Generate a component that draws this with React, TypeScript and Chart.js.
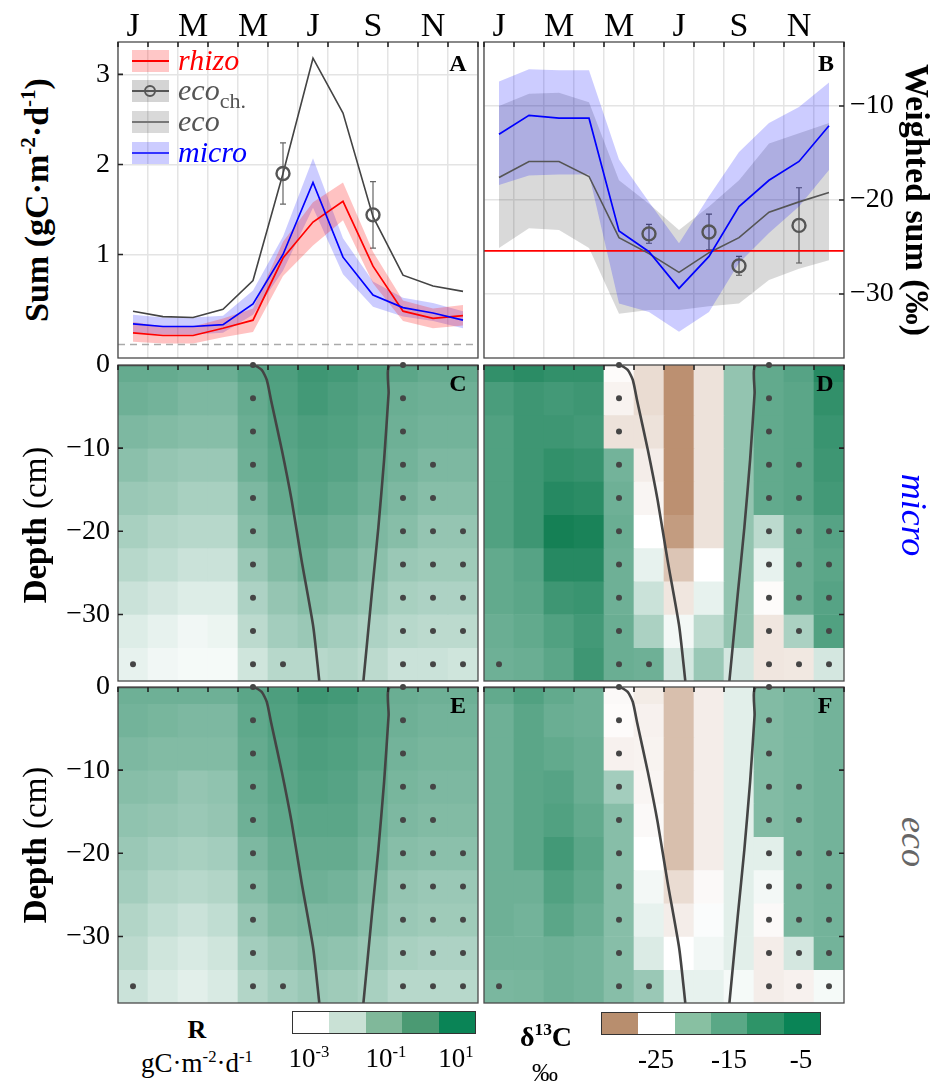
import React, { useEffect, useRef } from 'react';
import { Chart, registerables } from 'chart.js';

Chart.register(...registerables);

const FONT = '"Liberation Serif", "Times New Roman", Times, serif';

// ---------- categories ----------
const MONTHS = ['J', 'F', 'M', 'A', 'M', 'J', 'J', 'A', 'S', 'O', 'N', 'D'];
const MONTH_LABEL_IDX = [0, 2, 4, 6, 8, 10];

// ---------- panel A : sums (gC m-2 d-1) ----------
const rhizoSum = [0.13, 0.1, 0.1, 0.18, 0.27, 0.96, 1.36, 1.59, 0.87, 0.37, 0.29, 0.32];
const rhizoLow = [0.03, 0.01, 0.01, 0.08, 0.14, 0.76, 1.1, 1.38, 0.68, 0.26, 0.18, 0.21];
const rhizoHigh = [0.25, 0.2, 0.2, 0.29, 0.4, 1.14, 1.58, 1.8, 1.03, 0.49, 0.4, 0.44];
const microSum = [0.23, 0.2, 0.2, 0.22, 0.45, 1.0, 1.8, 0.97, 0.55, 0.41, 0.35, 0.27];
const microLow = [0.13, 0.11, 0.11, 0.13, 0.33, 0.82, 1.52, 0.78, 0.42, 0.31, 0.26, 0.18];
const microHigh = [0.33, 0.3, 0.3, 0.32, 0.6, 1.2, 2.07, 1.18, 0.7, 0.52, 0.46, 0.37];
const ecoSum = [0.37, 0.31, 0.3, 0.39, 0.71, 1.9, 3.18, 2.57, 1.42, 0.77, 0.65, 0.59];
const ecoChSum = [null, null, null, null, null, 1.9, null, null, 1.44, null, null, null];
const ecoChSumErr = [null, null, null, null, null, 0.34, null, null, 0.37, null, null, null];
const SUM_TICKS = [1, 2, 3];
const SUM_BASELINE = 0;
const SUM_MIN = -0.15;
const SUM_MAX = 3.36;

// ---------- panel B : weighted sums (permil) ----------
const microD13C = [-13.0, -11.0, -11.3, -11.3, -23.3, -25.5, -29.4, -26.0, -20.7, -17.9, -15.9, -12.1];
const microD13CLow = [-18.4, -17.4, -17.3, -17.3, -31.0, -31.9, -34.0, -31.9, -26.7, -23.5, -20.7, -16.8];
const microD13CHigh = [-7.4, -6.1, -6.2, -6.2, -15.7, -20.2, -24.6, -19.6, -14.9, -11.8, -10.1, -7.5];
const ecoD13C = [-17.6, -15.9, -15.9, -17.5, -24.0, -25.7, -27.7, -25.6, -24.0, -21.3, -20.2, -19.2];
const ecoD13CLow = [-25.1, -23.0, -23.2, -25.1, -32.1, -31.7, -31.7, -31.3, -31.0, -28.5, -27.3, -26.4];
const ecoD13CHigh = [-10.0, -8.7, -8.6, -9.6, -17.9, -20.4, -23.2, -20.7, -17.9, -14.0, -12.9, -11.8];
const ecoChD13C = [null, null, null, null, null, -23.6, null, -23.4, -27.0, null, -22.7, null];
const ecoChD13CErr = [null, null, null, null, null, 1.0, null, 1.9, 1.0, null, 4.0, null];
const rhizoD13C = -25.4;
const D13C_TICKS = [-10, -20, -30];
const D13C_MIN = -36.8;
const D13C_MAX = -3.2;

// ---------- panels C-F : depth profiles ----------
const LAYER_DEPTHS = [0, -4, -8, -12, -16, -20, -24, -28, -32, -36];
const LAYER_HALF = 2;
const DEPTH_MIN = -38;
const DEPTH_TICKS = [0, -10, -20, -30];

// log10 R, rows = layers, cols = months
const microLogR = [
  [-0.8, -0.8, -0.9, -0.9, -0.5, -0.3, 0.0, -0.1, -0.4, -0.6, -0.8, -0.8],
  [-1.0, -1.1, -1.3, -1.3, -0.8, -0.4, -0.1, -0.3, -0.5, -0.9, -1.0, -1.0],
  [-1.3, -1.4, -1.5, -1.5, -0.9, -0.5, -0.3, -0.4, -0.6, -1.0, -1.1, -1.1],
  [-1.6, -1.8, -1.9, -1.9, -1.0, -0.6, -0.4, -0.5, -0.8, -1.1, -1.3, -1.3],
  [-1.9, -2.0, -2.2, -2.2, -1.3, -0.8, -0.5, -0.7, -1.0, -1.3, -1.5, -1.5],
  [-2.2, -2.4, -2.5, -2.5, -1.5, -1.1, -0.8, -1.0, -1.3, -1.5, -1.8, -1.8],
  [-2.5, -2.7, -2.9, -2.9, -1.9, -1.4, -1.0, -1.3, -1.6, -1.9, -2.0, -2.0],
  [-2.9, -3.1, -3.3, -3.3, -2.3, -1.8, -1.5, -1.7, -1.9, -2.2, -2.3, -2.3],
  [-3.3, -3.5, -3.7, -3.6, -2.6, -2.1, -1.9, -2.1, -2.3, -2.5, -2.6, -2.6],
  [-3.5, -3.7, -3.8, -3.8, -3.0, -2.5, -2.5, -2.4, -2.6, -2.9, -2.9, -3.0],
];
const ecoLogR = [
  [-1.0, -1.0, -1.0, -1.0, -0.6, -0.3, 0.0, -0.1, -0.4, -0.9, -1.0, -1.0],
  [-1.1, -1.2, -1.3, -1.3, -0.7, -0.4, -0.2, -0.3, -0.5, -1.0, -1.1, -1.1],
  [-1.3, -1.4, -1.4, -1.4, -0.8, -0.5, -0.3, -0.4, -0.6, -1.1, -1.2, -1.2],
  [-1.5, -1.6, -1.8, -1.7, -0.9, -0.6, -0.4, -0.5, -0.8, -1.2, -1.3, -1.3],
  [-1.7, -1.8, -1.9, -1.8, -1.0, -0.7, -0.6, -0.6, -0.9, -1.3, -1.4, -1.4],
  [-1.9, -2.1, -2.2, -2.1, -1.3, -0.9, -0.8, -0.8, -1.1, -1.5, -1.6, -1.6],
  [-2.1, -2.4, -2.5, -2.4, -1.5, -1.1, -1.0, -1.1, -1.4, -1.8, -1.9, -1.9],
  [-2.4, -2.7, -2.9, -2.7, -1.8, -1.4, -1.3, -1.3, -1.6, -1.9, -2.0, -2.0],
  [-2.6, -3.0, -3.2, -3.0, -2.1, -1.8, -1.6, -1.7, -1.9, -2.2, -2.3, -2.3],
  [-2.9, -3.2, -3.4, -3.2, -2.4, -2.1, -1.9, -2.0, -2.2, -2.5, -2.5, -2.5],
];
// delta13C (permil), rows = layers, cols = months
const microDelta = [
  [-10.0, -9.4, -10.0, -10.0, -27.2, -28.8, -32.7, -28.5, -18.0, -14.0, -13.0, -9.0],
  [-12.0, -11.0, -11.4, -11.0, -27.6, -28.8, -32.7, -28.5, -18.0, -14.0, -13.4, -10.0],
  [-12.6, -11.0, -11.0, -11.4, -28.5, -28.5, -32.7, -28.5, -18.0, -14.0, -13.4, -10.6],
  [-12.6, -11.0, -10.0, -10.4, -15.4, -27.9, -32.7, -28.5, -18.0, -14.0, -13.4, -11.0],
  [-12.6, -11.0, -9.0, -9.4, -15.0, -27.5, -32.7, -28.5, -18.0, -14.0, -13.4, -11.4],
  [-12.6, -11.0, -7.6, -8.0, -14.6, -27.0, -32.1, -28.5, -18.0, -21.4, -14.6, -13.0],
  [-14.0, -13.0, -9.0, -9.0, -15.0, -25.0, -30.0, -27.0, -18.0, -25.0, -14.6, -13.4],
  [-14.0, -13.4, -11.0, -10.6, -15.0, -22.6, -28.3, -25.0, -18.0, -27.2, -14.6, -13.0],
  [-14.6, -14.0, -12.6, -11.4, -14.6, -20.0, -26.0, -21.4, -18.0, -28.3, -20.0, -12.6],
  [-15.0, -14.6, -13.4, -11.0, -14.6, -15.0, -23.4, -18.6, -23.4, -28.3, -28.2, -23.4],
];
const ecoDelta = [
  [-14.0, -12.6, -14.0, -15.0, -27.3, -28.0, -30.3, -27.9, -24.6, -16.6, -16.0, -15.4],
  [-15.0, -13.4, -14.6, -15.0, -27.2, -27.7, -30.3, -27.9, -24.6, -16.6, -16.0, -15.4],
  [-15.0, -13.4, -14.0, -14.6, -27.7, -27.6, -30.3, -27.9, -24.6, -16.6, -16.0, -15.4],
  [-15.0, -13.4, -13.0, -14.6, -19.4, -27.5, -30.3, -27.9, -24.6, -16.6, -16.0, -15.4],
  [-15.0, -13.4, -12.6, -14.0, -17.0, -27.3, -30.3, -27.9, -24.6, -16.6, -16.0, -15.4],
  [-15.0, -13.4, -11.4, -13.4, -17.0, -27.0, -30.3, -27.9, -24.6, -24.6, -16.0, -15.4],
  [-15.0, -15.0, -12.6, -14.0, -17.0, -26.0, -28.8, -27.3, -24.6, -26.0, -16.0, -15.4],
  [-15.0, -15.4, -13.4, -14.6, -17.0, -25.0, -27.9, -26.6, -24.6, -27.3, -16.0, -15.4],
  [-15.4, -15.4, -15.0, -15.4, -17.0, -24.0, -27.0, -25.8, -24.6, -27.9, -23.4, -15.4],
  [-16.0, -15.8, -15.0, -15.4, -17.0, -18.6, -25.0, -25.0, -26.2, -27.9, -27.7, -26.2],
];
// significant cells (month indices per layer)
const SIG_COLS = [
  [4, 9], [4, 9], [4, 9], [4, 9, 10], [4, 9, 10],
  [4, 9, 10, 11], [4, 9, 10, 11], [4, 9, 10, 11], [4, 9, 10, 11], [0, 4, 5, 9, 10, 11],
];
// thaw boundary curve (month index, depth cm)
const thawLeftX = [-0.5, 4.01, 4.29, 4.46, 4.6, 4.96, 5.29, 5.62, 6.01, 6.21];
const thawLeftDepth = [0, 0, -0.6, -1.8, -4.2, -10.2, -16.3, -23.5, -31.5, -38];
const thawRightX = [7.68, 7.96, 8.18, 8.37, 8.52, 8.57, 11.5];
const thawRightDepth = [-38, -27.5, -19.5, -11.4, -3.4, 0, 0];

// ---------- colour bars ----------
const R_BAR_COLORS = ['#ffffff', '#c9e1d5', '#80b89a', '#4b9a73', '#0a8456'];
const R_BAR_LABELS = [['10', '-3'], ['10', '-1'], ['10', '1']];
const D_BAR_COLORS = ['#b88e6e', '#ffffff', '#88c0a2', '#5aa886', '#2e9468', '#0a8456'];
const D_BAR_LABELS = ['-25', '-15', '-5'];

// ---------- colour maps ----------
type RGB = [number, number, number];
const WHITE: RGB = [255, 255, 255];
const GREEN: RGB = [14, 124, 80];
const BROWN: RGB = [184, 138, 106];
const clamp01 = (t: number) => Math.max(0, Math.min(1, t));
const mix = (a: RGB, b: RGB, t: number) =>
  `rgb(${a.map((c, i) => Math.round(c + (b[i] - c) * t)).join(',')})`;
const R_LOG_MIN = -4;
const R_LOG_MAX = 1;
const rColor = (v: number) => mix(WHITE, GREEN, clamp01((v - R_LOG_MIN) / (R_LOG_MAX - R_LOG_MIN)));
const D_NEUTRAL = -27;
const D_GREEN_SPAN = 20;
const D_BROWN_SPAN = 6;
const dColor = (v: number) =>
  v >= D_NEUTRAL
    ? mix(WHITE, GREEN, clamp01((v - D_NEUTRAL) / D_GREEN_SPAN))
    : mix(WHITE, BROWN, clamp01((D_NEUTRAL - v) / D_BROWN_SPAN));

const fmt = (v: number) => (v < 0 ? '\u2212' + Math.abs(v) : String(v));

// ---------- plugins ----------
const frameTicks = {
  id: 'frameTicks',
  afterDraw(chart: any, _a: any, opts: any) {
    const { ctx, chartArea: ca } = chart;
    const xc = chart.scales.xc;
    const y = chart.scales.y;
    ctx.save();
    ctx.strokeStyle = '#4a4a4a';
    ctx.lineWidth = 1.3;
    ctx.strokeRect(ca.left, ca.top, ca.right - ca.left, ca.bottom - ca.top);
    ctx.strokeStyle = '#222';
    ctx.lineWidth = 1.6;
    ctx.beginPath();
    for (let k = 0; k <= MONTHS.length; k++) {
      const px = xc.getPixelForValue(k - 0.5);
      ctx.moveTo(px, ca.top);
      ctx.lineTo(px, ca.top + 5);
    }
    (opts.yTicks || []).forEach((v: number) => {
      const py = y.getPixelForValue(v);
      if (opts.side === 'right') {
        ctx.moveTo(ca.right, py);
        ctx.lineTo(ca.right - 5, py);
      } else {
        ctx.moveTo(ca.left, py);
        ctx.lineTo(ca.left + 5, py);
      }
    });
    ctx.stroke();
    ctx.restore();
  },
};

const errorBars = {
  id: 'errorBars',
  beforeDatasetsDraw(chart: any) {
    const { ctx } = chart;
    const y = chart.scales.y;
    chart.data.datasets.forEach((ds: any, i: number) => {
      if (!ds.errorBars) return;
      const meta = chart.getDatasetMeta(i);
      ctx.save();
      ctx.strokeStyle = '#666';
      ctx.lineWidth = 1.2;
      meta.data.forEach((pt: any, j: number) => {
        const v = ds.data[j];
        const e = ds.errorBars[j];
        if (v == null || e == null) return;
        const y1 = y.getPixelForValue(v + e);
        const y2 = y.getPixelForValue(v - e);
        ctx.beginPath();
        ctx.moveTo(pt.x, y1);
        ctx.lineTo(pt.x, y2);
        ctx.moveTo(pt.x - 3, y1);
        ctx.lineTo(pt.x + 3, y1);
        ctx.moveTo(pt.x - 3, y2);
        ctx.lineTo(pt.x + 3, y2);
        ctx.stroke();
      });
      ctx.restore();
    });
  },
};

const band = (data: number[], color: string | null, order: number) => ({
  data,
  borderWidth: 0,
  pointRadius: 0,
  fill: color ? '+1' : false,
  backgroundColor: color || 'transparent',
  order,
});

const monthAxisTop = () => ({
  type: 'category',
  position: 'top',
  offset: true,
  grid: { offset: true, color: '#e4e4e4', lineWidth: 1.5, drawTicks: false },
  border: { display: false },
  ticks: {
    autoSkip: false,
    maxRotation: 0,
    padding: -2,
    color: '#000',
    font: { family: FONT, size: 34, lineHeight: 1 },
    callback: (_v: any, i: number) => (MONTH_LABEL_IDX.includes(i) ? MONTHS[i] : ''),
  },
  afterFit: (s: any) => {
    s.height = 42;
    s.paddingLeft = 0;
    s.paddingRight = 0;
  },
});

const hiddenXc = () => ({ type: 'linear', min: -0.5, max: 11.5, offset: false, display: false });

const baseOptions = {
  responsive: false,
  animation: false,
  events: [],
};

const panelAConfig: any = {
  type: 'line',
  data: {
    labels: MONTHS,
    datasets: [
      band(microHigh, 'rgba(0,0,255,0.2)', 10),
      band(microLow, null, 10),
      band(rhizoHigh, 'rgba(255,0,0,0.24)', 9),
      band(rhizoLow, null, 9),
      {
        xAxisID: 'xc',
        data: [{ x: -0.5, y: SUM_BASELINE }, { x: 11.5, y: SUM_BASELINE }],
        borderColor: '#aaaaaa',
        borderDash: [7, 5],
        borderWidth: 1.5,
        pointRadius: 0,
        order: 8,
      },
      { data: ecoSum, borderColor: '#444', borderWidth: 1.6, pointRadius: 0, order: 3 },
      { data: rhizoSum, borderColor: '#ff0000', borderWidth: 1.7, pointRadius: 0, order: 2 },
      { data: microSum, borderColor: '#0000ff', borderWidth: 1.7, pointRadius: 0, order: 1 },
      {
        data: ecoChSum,
        errorBars: ecoChSumErr,
        showLine: false,
        pointRadius: 6.5,
        pointBorderWidth: 2.4,
        pointBorderColor: '#555',
        pointBackgroundColor: 'rgba(0,0,0,0)',
        order: 0,
      },
    ],
  },
  options: {
    ...baseOptions,
    layout: { autoPadding: false, padding: { left: 0, right: 7, top: 0, bottom: 4 } },
    plugins: { legend: { display: false }, tooltip: { enabled: false }, frameTicks: { yTicks: SUM_TICKS, side: 'left' } },
    scales: {
      x: monthAxisTop(),
      xc: hiddenXc(),
      y: {
        type: 'linear',
        position: 'left',
        min: SUM_MIN,
        max: SUM_MAX,
        afterBuildTicks: (s: any) => {
          s.ticks = SUM_TICKS.map((v) => ({ value: v }));
        },
        grid: { color: '#e4e4e4', lineWidth: 1.5, drawTicks: false },
        border: { display: false },
        ticks: { padding: 8, color: '#000', font: { family: FONT, size: 28 }, callback: (v: number) => fmt(v) },
        afterFit: (s: any) => {
          s.width = 58;
          s.paddingTop = 0;
          s.paddingBottom = 0;
        },
      },
    },
  },
  plugins: [frameTicks, errorBars],
};

const panelBConfig: any = {
  type: 'line',
  data: {
    labels: MONTHS,
    datasets: [
      band(ecoD13CHigh, 'rgba(0,0,0,0.15)', 10),
      band(ecoD13CLow, null, 10),
      band(microD13CHigh, 'rgba(0,0,255,0.2)', 9),
      band(microD13CLow, null, 9),
      {
        xAxisID: 'xc',
        data: [{ x: -0.5, y: rhizoD13C }, { x: 11.5, y: rhizoD13C }],
        borderColor: '#ff0000',
        borderWidth: 1.8,
        pointRadius: 0,
        order: 4,
      },
      { data: ecoD13C, borderColor: '#555', borderWidth: 1.6, pointRadius: 0, order: 3 },
      { data: microD13C, borderColor: '#0000ff', borderWidth: 1.7, pointRadius: 0, order: 1 },
      {
        data: ecoChD13C,
        errorBars: ecoChD13CErr,
        showLine: false,
        pointRadius: 6.5,
        pointBorderWidth: 2.4,
        pointBorderColor: '#555',
        pointBackgroundColor: 'rgba(0,0,0,0)',
        order: 0,
      },
    ],
  },
  options: {
    ...baseOptions,
    layout: { autoPadding: false, padding: { left: 4, right: 0, top: 0, bottom: 4 } },
    plugins: { legend: { display: false }, tooltip: { enabled: false }, frameTicks: { yTicks: D13C_TICKS, side: 'right' } },
    scales: {
      x: monthAxisTop(),
      xc: hiddenXc(),
      y: {
        type: 'linear',
        position: 'right',
        min: D13C_MIN,
        max: D13C_MAX,
        afterBuildTicks: (s: any) => {
          s.ticks = D13C_TICKS.map((v) => ({ value: v }));
        },
        grid: { color: '#e4e4e4', lineWidth: 1.5, drawTicks: false },
        border: { display: false },
        ticks: { padding: 6, color: '#000', font: { family: FONT, size: 28 }, callback: (v: number) => fmt(v) },
        afterFit: (s: any) => {
          s.width = 91;
          s.paddingTop = 0;
          s.paddingBottom = 0;
        },
      },
    },
  },
  plugins: [frameTicks, errorBars],
};

function heatmapConfig(values: number[][], colorFn: (v: number) => string, left: boolean): any {
  const datasets: any[] = [];
  datasets.push({
    type: 'line',
    xAxisID: 'xc',
    data: thawLeftX.map((x, i) => ({ x, y: thawLeftDepth[i] })),
    borderColor: '#444',
    borderWidth: 2.6,
    pointRadius: 0,
    tension: 0.2,
    order: 0,
  });
  datasets.push({
    type: 'line',
    xAxisID: 'xc',
    data: thawRightX.map((x, i) => ({ x, y: thawRightDepth[i] })),
    borderColor: '#444',
    borderWidth: 2.6,
    pointRadius: 0,
    tension: 0.2,
    order: 0,
  });
  const sig: { x: number; y: number }[] = [];
  SIG_COLS.forEach((cols, r) => cols.forEach((c) => sig.push({ x: c, y: LAYER_DEPTHS[r] })));
  datasets.push({
    type: 'line',
    xAxisID: 'xc',
    data: sig,
    showLine: false,
    clip: false,
    pointRadius: 3,
    pointBorderWidth: 0,
    pointBackgroundColor: '#454545',
    order: 1,
  });
  LAYER_DEPTHS.forEach((d, r) => {
    datasets.push({
      type: 'bar',
      data: MONTHS.map(() => [d + LAYER_HALF, d - LAYER_HALF]),
      backgroundColor: values[r].map(colorFn),
      borderWidth: 0,
      grouped: false,
      barPercentage: 1,
      categoryPercentage: 1,
      order: 5,
    });
  });
  const yAxis: any = {
    type: 'linear',
    position: 'left',
    min: DEPTH_MIN,
    max: 0,
    display: left,
    afterBuildTicks: (s: any) => {
      s.ticks = DEPTH_TICKS.map((v) => ({ value: v }));
    },
    grid: { display: false, drawTicks: false },
    border: { display: false },
    ticks: { padding: 8, color: '#000', font: { family: FONT, size: 28 }, callback: (v: number) => fmt(v) },
  };
  if (left) {
    yAxis.afterFit = (s: any) => {
      s.width = 78;
      s.paddingTop = 0;
      s.paddingBottom = 0;
    };
  }
  return {
    type: 'bar',
    data: { labels: MONTHS, datasets },
    options: {
      ...baseOptions,
      layout: {
        autoPadding: false,
        padding: left ? { left: 0, right: 7, top: 35, bottom: 9 } : { left: 4, right: 36, top: 35, bottom: 9 },
      },
      plugins: {
        legend: { display: false },
        tooltip: { enabled: false },
        frameTicks: { yTicks: DEPTH_TICKS.slice(1), side: left ? 'left' : 'right' },
      },
      scales: {
        x: { type: 'category', offset: true, display: false },
        xc: hiddenXc(),
        y: yAxis,
      },
    },
    plugins: [frameTicks],
  };
}

function ChartBox({ config, left, top, width, height }: any) {
  const ref = useRef<HTMLCanvasElement>(null);
  useEffect(() => {
    const chart = new Chart(ref.current as HTMLCanvasElement, config);
    return () => chart.destroy();
  }, []);
  return (
    <div style={{ position: 'absolute', left, top, width, height }}>
      <canvas ref={ref} width={width} height={height} style={{ display: 'block' }} />
    </div>
  );
}

function Txt({ x, y, angle = 0, style, children }: any) {
  return (
    <div
      style={{
        position: 'absolute',
        left: x,
        top: y,
        transform: `translate(-50%,-50%) rotate(${angle}deg)`,
        whiteSpace: 'nowrap',
        fontFamily: FONT,
        lineHeight: 1,
        color: '#000',
        ...style,
      }}
    >
      {children}
    </div>
  );
}

const sup = (s: string) => (
  <span style={{ fontSize: '0.62em', verticalAlign: '0.6em' }}>{s}</span>
);

const LEGEND_ITEMS = [
  { label: 'rhizo', sub: '', bandColor: 'rgba(255,0,0,0.22)', line: '#ff0000', lw: 2, marker: false, text: '#ff0000', top: 50 },
  { label: 'eco', sub: 'ch.', bandColor: 'rgba(0,0,0,0.17)', line: '#555', lw: 2, marker: true, text: '#555', top: 80 },
  { label: 'eco', sub: '', bandColor: 'rgba(0,0,0,0.15)', line: '#777', lw: 1.2, marker: false, text: '#555', top: 111 },
  { label: 'micro', sub: '', bandColor: 'rgba(0,0,255,0.2)', line: '#3333ff', lw: 1.2, marker: false, text: '#0000ff', top: 142 },
];

function Legend() {
  return (
    <>
      {LEGEND_ITEMS.map((it, i) => (
        <div key={i} style={{ position: 'absolute', left: 132, top: it.top, height: 22 }}>
          <div style={{ position: 'absolute', left: 0, top: 0, width: 37, height: 22, background: it.bandColor }} />
          <div style={{ position: 'absolute', left: 0, top: 11 - it.lw / 2, width: 37, height: it.lw, background: it.line }} />
          {it.marker && (
            <div
              style={{
                position: 'absolute',
                left: 12,
                top: 5,
                width: 8,
                height: 8,
                border: '2.4px solid #555',
                borderRadius: '50%',
              }}
            />
          )}
          <div
            style={{
              position: 'absolute',
              left: 46,
              top: -5,
              fontFamily: FONT,
              fontStyle: 'italic',
              fontSize: 30,
              lineHeight: '30px',
              color: it.text,
              whiteSpace: 'nowrap',
            }}
          >
            {it.label}
            {it.sub && (
              <span style={{ fontStyle: 'normal', fontSize: 22, position: 'relative', top: 8 }}>{it.sub}</span>
            )}
          </div>
        </div>
      ))}
    </>
  );
}

function ColorBar({ colors, left, top, width, height }: any) {
  return (
    <div
      style={{
        position: 'absolute',
        left,
        top,
        width,
        height,
        display: 'flex',
        border: '1.5px solid #333',
        boxSizing: 'border-box',
      }}
    >
      {colors.map((c: string, i: number) => (
        <div key={i} style={{ flex: 1, background: c }} />
      ))}
    </div>
  );
}

const panelC = heatmapConfig(microLogR, rColor, true);
const panelD = heatmapConfig(microDelta, dColor, false);
const panelE = heatmapConfig(ecoLogR, rColor, true);
const panelF = heatmapConfig(ecoDelta, dColor, false);

export default function App() {
  const letter = { fontWeight: 'bold', fontSize: 24 };
  return (
    <div style={{ position: 'absolute', left: 0, top: 0, width: 935, height: 1084, background: '#fff', overflow: 'hidden' }}>
      <ChartBox config={panelAConfig} left={60} top={0} width={425} height={362} />
      <ChartBox config={panelBConfig} left={480} top={0} width={455} height={362} />
      <ChartBox config={panelC} left={40} top={330} width={445} height={360} />
      <ChartBox config={panelD} left={480} top={330} width={400} height={360} />
      <ChartBox config={panelE} left={40} top={652} width={445} height={360} />
      <ChartBox config={panelF} left={480} top={652} width={400} height={360} />

      <Legend />

      <Txt x={36} y={200} angle={-90} style={{ fontWeight: 'bold', fontSize: 34 }}>
        Sum (gC·m{sup('-2')}·d{sup('-1')})
      </Txt>
      <Txt x={917} y={200} angle={90} style={{ fontWeight: 'bold', fontSize: 34 }}>
        Weighted sum (‰)
      </Txt>
      <Txt x={35} y={525} angle={-90} style={{ fontSize: 33 }}>
        <b>Depth</b> (cm)
      </Txt>
      <Txt x={35} y={845} angle={-90} style={{ fontSize: 33 }}>
        <b>Depth</b> (cm)
      </Txt>
      <Txt x={914} y={515} angle={90} style={{ fontSize: 36, fontStyle: 'italic', color: '#0000ff' }}>
        micro
      </Txt>
      <Txt x={914} y={842} angle={90} style={{ fontSize: 36, fontStyle: 'italic', color: '#666' }}>
        eco
      </Txt>

      <Txt x={458} y={63} style={letter}>A</Txt>
      <Txt x={826} y={63} style={letter}>B</Txt>
      <Txt x={458} y={383} style={letter}>C</Txt>
      <Txt x={825} y={383} style={letter}>D</Txt>
      <Txt x={458} y={705} style={letter}>E</Txt>
      <Txt x={825} y={705} style={letter}>F</Txt>

      <Txt x={197} y={1030} style={{ fontWeight: 'bold', fontSize: 26 }}>R</Txt>
      <Txt x={197} y={1063} style={{ fontSize: 27 }}>
        gC·m{sup('-2')}·d{sup('-1')}
      </Txt>
      <ColorBar colors={R_BAR_COLORS} left={292} top={1011} width={184} height={23} />
      {R_BAR_LABELS.map((l, i) => (
        <Txt key={i} x={[309, 386, 456][i]} y={1058} style={{ fontSize: 27 }}>
          {l[0]}
          {sup(l[1])}
        </Txt>
      ))}

      <Txt x={546} y={1036} style={{ fontWeight: 'bold', fontSize: 28 }}>
        δ{sup('13')}C
      </Txt>
      <Txt x={545} y={1073} style={{ fontSize: 26 }}>‰</Txt>
      <ColorBar colors={D_BAR_COLORS} left={601} top={1012} width={220} height={23} />
      {D_BAR_LABELS.map((l, i) => (
        <Txt key={i} x={[656, 729, 801][i]} y={1059} style={{ fontSize: 27 }}>
          {l}
        </Txt>
      ))}
    </div>
  );
}
